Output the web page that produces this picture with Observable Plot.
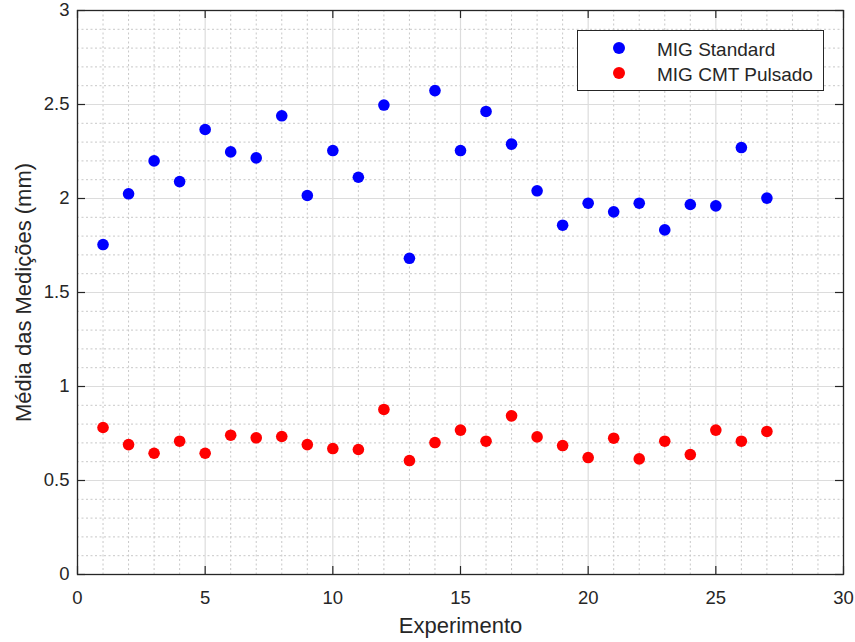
<!DOCTYPE html>
<html><head><meta charset="utf-8">
<script src="https://cdn.jsdelivr.net/npm/d3@7"></script>
<script src="https://cdn.jsdelivr.net/npm/@observablehq/plot@0.6"></script>
<style>
body{margin:0;background:#fff;font-family:"Liberation Sans",Arial,Helvetica,sans-serif}
#wrap{position:relative;width:855px;height:642px;overflow:hidden}
.legend{position:absolute;left:577px;top:30px;width:247px;height:61px;box-sizing:border-box;border:1.3px solid #262626;background:#fff;font-size:19px;color:#262626}
.legend .dot{position:absolute;width:12px;height:12px;border-radius:50%;transform:translate(-50%,-50%)}
.legend .lbl{position:absolute;left:79px;white-space:nowrap;transform:translateY(-50%);line-height:1}
</style></head>
<body><div id="wrap"></div>
<script>
const experiments = [1,2,3,4,5,6,7,8,9,10,11,12,13,14,15,16,17,18,19,20,21,22,23,24,25,26,27];
const migStandard = [1.755,2.025,2.200,2.090,2.367,2.248,2.216,2.440,2.016,2.255,2.113,2.497,1.682,2.574,2.255,2.463,2.289,2.041,1.858,1.975,1.929,1.975,1.833,1.968,1.961,2.271,2.002];
const migCmtPulsado = [0.782,0.691,0.645,0.709,0.645,0.741,0.727,0.734,0.691,0.670,0.665,0.878,0.606,0.702,0.768,0.709,0.844,0.732,0.686,0.622,0.725,0.615,0.709,0.638,0.768,0.709,0.761];
const seriesNames = ["MIG Standard","MIG CMT Pulsado"];
const seriesColors = ["#0000ff","#ff0000"];
const xTicks = [0,5,10,15,20,25,30];
const yTicks = [0,0.5,1,1.5,2,2.5,3];
const xMinor = [1,2,3,4,6,7,8,9,11,12,13,14,16,17,18,19,21,22,23,24,26,27,28,29];
const yMinor = [0.1,0.2,0.3,0.4,0.6,0.7,0.8,0.9,1.1,1.2,1.3,1.4,1.6,1.7,1.8,1.9,2.1,2.2,2.3,2.4,2.6,2.7,2.8,2.9];
const xLabel = "Experimento";
const yLabel = "Média das Medições (mm)";

const W = 855, H = 642, mL = 77, mR = 12, mT = 10, mB = 68;
const xDom = [0,30], yDom = [0,3];
const tickPx = 8;
const tY = tickPx * (yDom[1]-yDom[0]) / (H - mT - mB);
const tX = tickPx * (xDom[1]-xDom[0]) / (W - mL - mR);

const data = [];
experiments.forEach((e,i) => {
  data.push({x:e, y:migStandard[i], s:seriesNames[0]});
  data.push({x:e, y:migCmtPulsado[i], s:seriesNames[1]});
});

const axisColor = "#262626";
const chart = Plot.plot({
  width: W, height: H,
  marginLeft: mL, marginRight: mR, marginTop: mT, marginBottom: mB,
  style: {fontFamily: '"Liberation Sans",Arial,sans-serif', background: "#fff", color: axisColor},
  x: {domain: xDom, label: null},
  y: {domain: yDom, label: null},
  color: {domain: seriesNames, range: seriesColors},
  marks: [
    Plot.ruleX(xMinor, {stroke: "#c8c8c8", strokeDasharray: "2,2.5", strokeWidth: 1}),
    Plot.ruleY(yMinor, {stroke: "#c8c8c8", strokeDasharray: "2,2.5", strokeWidth: 1}),
    Plot.ruleX(xTicks, {stroke: "#dcdcdc", strokeWidth: 1.2}),
    Plot.ruleY(yTicks, {stroke: "#dcdcdc", strokeWidth: 1.2}),
    Plot.ruleX(xTicks, {y1: yDom[0], y2: yDom[0] + tY, stroke: axisColor, strokeWidth: 1.2}),
    Plot.ruleX(xTicks, {y1: yDom[1] - tY, y2: yDom[1], stroke: axisColor, strokeWidth: 1.2}),
    Plot.ruleY(yTicks, {x1: xDom[0], x2: xDom[0] + tX, stroke: axisColor, strokeWidth: 1.2}),
    Plot.ruleY(yTicks, {x1: xDom[1] - tX, x2: xDom[1], stroke: axisColor, strokeWidth: 1.2}),
    Plot.frame({stroke: axisColor, strokeWidth: 1.3}),
    Plot.axisX(xTicks, {tickSize: 0, tickPadding: 16, fontSize: 18.5, label: null, fill: axisColor}),
    Plot.axisY(yTicks, {tickSize: 0, tickPadding: 8, fontSize: 18.5, label: null, fill: axisColor, tickFormat: d => String(d)}),
    Plot.dot(data, {x: "x", y: "y", fill: "s", r: 5.8, stroke: null}),
    Plot.text([xLabel], {frameAnchor: "bottom", dy: 43, fontSize: 22, fill: axisColor, lineAnchor: "top", textAnchor: "middle", letterSpacing: "0.3px"}),
    Plot.text([yLabel], {frameAnchor: "left", dx: -54, rotate: -90, fontSize: 22, fill: axisColor, lineAnchor: "middle", textAnchor: "middle", letterSpacing: "1px"})
  ]
});
const wrap = document.getElementById("wrap");
wrap.appendChild(chart);

const legend = document.createElement("div");
legend.className = "legend";
seriesNames.forEach((n,i) => {
  const cy = 17 + i*25;
  const dot = document.createElement("span");
  dot.className = "dot";
  dot.style.left = "41px"; dot.style.top = cy + "px";
  dot.style.background = seriesColors[i];
  const lbl = document.createElement("span");
  lbl.className = "lbl";
  lbl.style.top = (cy + 1) + "px";
  lbl.textContent = n;
  legend.appendChild(dot); legend.appendChild(lbl);
});
wrap.appendChild(legend);
</script>
</body></html>
